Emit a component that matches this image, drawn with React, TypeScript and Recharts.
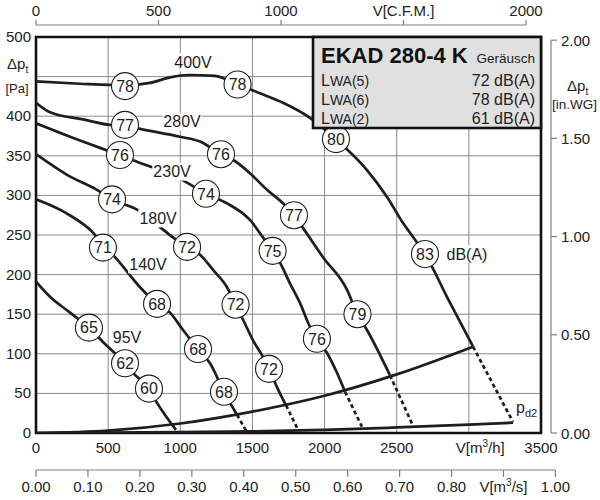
import React from "react";
import {
  ComposedChart,
  Line,
  Scatter,
  XAxis,
  YAxis,
  CartesianGrid,
  ReferenceArea,
} from "recharts";

type Pt = [number, number];
type Badge = [number, number, number];

// fan curves: V [m3/h], dp [Pa]
const curve400V: Pt[] = [
  [0, 444], [305, 441], [617, 439], [790, 442], [929, 449], [1067, 452], [1241, 451],
  [1397, 440], [1552, 429], [1712, 417], [1899, 398], [2079, 371], [2294, 332],
  [2433, 298], [2544, 265], [2627, 244], [2696, 226], [2848, 172], [3029, 109],
];
const dash400V: Pt[] = [[3029, 109], [3306, 14]];

const curve280V: Pt[] = [
  [0, 417], [97, 405], [326, 396], [513, 389], [617, 388], [721, 384], [998, 374],
  [1137, 368], [1282, 352], [1365, 345], [1483, 328], [1601, 307], [1712, 290],
  [1788, 275], [1850, 259], [1989, 222], [2155, 181], [2228, 150], [2294, 130], [2453, 73],
];
const dash280V: Pt[] = [[2453, 73], [2613, 9]];

const curve230V: Pt[] = [
  [0, 391], [236, 374], [444, 360], [582, 351], [721, 341], [859, 332], [1019, 319],
  [1178, 302], [1324, 290], [1483, 269], [1573, 247], [1640, 230], [1691, 215],
  [1760, 189], [1830, 164], [1899, 134], [1947, 119], [2017, 101], [2086, 76], [2142, 52],
];
const dash230V: Pt[] = [[2142, 52], [2259, 8]];

const curve180V: Pt[] = [
  [0, 352], [215, 326], [423, 307], [527, 295], [700, 282], [859, 260], [949, 247],
  [1047, 235], [1137, 225], [1227, 206], [1324, 184], [1383, 162], [1435, 143],
  [1504, 117], [1573, 96], [1615, 81], [1670, 58], [1733, 35],
];
const dash180V: Pt[] = [[1733, 35], [1816, 4]];

const curve140V: Pt[] = [
  [0, 295], [215, 277], [395, 253], [464, 238], [548, 222], [721, 184], [839, 163],
  [929, 152], [1019, 130], [1123, 106], [1206, 88], [1303, 52], [1393, 23],
];
const dash140V: Pt[] = [[1393, 23], [1462, 1]];

const curve95V: Pt[] = [
  [0, 191], [97, 172], [236, 152], [367, 133], [464, 115], [617, 88], [672, 76],
  [783, 56], [839, 38], [970, 4],
];

// system lines
const systemCurve: Pt[] = [[0, 0], [500, 3], [1000, 12], [1500, 27], [2000, 47], [2500, 74], [3029, 109]];
const pd2Curve: Pt[] = [[0, 0], [1000, 1], [1500, 2], [2000, 4], [2500, 7], [3000, 10.5], [3306, 13]];

// sound level badges: V, dp, dB(A)
const badges400V: Badge[] = [[617, 438, 78], [1397, 440, 78], [2079, 371, 80], [2696, 226, 83]];
const badges280V: Badge[] = [[617, 389, 77], [1282, 352, 76], [1788, 275, 77], [2228, 150, 79]];
const badges230V: Badge[] = [[582, 351, 76], [1178, 302, 74], [1640, 230, 75], [1947, 119, 76]];
const badges180V: Badge[] = [[527, 295, 74], [1047, 235, 72], [1383, 162, 72], [1615, 81, 72]];
const badges140V: Badge[] = [[464, 234, 71], [839, 163, 68], [1123, 106, 68], [1303, 52, 68]];
const badges95V: Badge[] = [[367, 133, 65], [617, 88, 62], [783, 56, 60]];

const curveTags: [number, number, string][] = [
  [1088, 468, "400V"], [1012, 393, "280V"], [943, 330, "230V"], [846, 271, "180V"],
  [776, 213, "140V"], [631, 121, "95V"], [2987, 226, "dB(A)"],
];
const pd2Tag: Pt[] = [[3327, 25]];

const xTicks = [0, 500, 1000, 1500, 2000, 2500, 3000, 3500];
const yTicks = [0, 50, 100, 150, 200, 250, 300, 350, 400, 450, 500];
const cfmTicks = [0, 500, 1000, 1500, 2000];
const msTicks = [0, 0.1, 0.2, 0.3, 0.4, 0.5, 0.6, 0.7, 0.8, 0.9, 1.0];
const inwgTicks = [0, 0.5, 1, 1.5, 2];

const soundRows = [
  ["WA(5)", "72 dB(A)"],
  ["WA(6)", "78 dB(A)"],
  ["WA(2)", "61 dB(A)"],
];

const X_MAX = 3500;
const Y_MAX = 500;
const M3H_PER_CFM = 1.698;
const M3H_PER_M3S = 3600;
const PA_PER_INWG = 248;

// every axis is 1px thick, the rest is margin
const MARGIN = { top: 37, right: 58, bottom: 66, left: 35 };
const PLOT_W = 600 - 36 - 59;
const PLOT_H = 500 - 37 - 67;
const PX_PER_M3H = PLOT_W / X_MAX;

const FONT = '"Liberation Sans", Arial, Helvetica, sans-serif';
const INK = "#1e1e1e";
const TEXT = "#222";
const GRID = "#8a8a8a";
const AXIS = "#808080";

const pts = (arr: Pt[]) => arr.map(([x, y]) => ({ x, y }));
const badgeData = [
  ...badges400V, ...badges280V, ...badges230V, ...badges180V, ...badges140V, ...badges95V,
].map(([x, y, db]) => ({ x, y, db }));
const tagData = curveTags.map(([x, y, text]) => ({ x, y, text }));

// C.F.M. scale above the plot, sharing the m3/h origin
const CfmScale = ({ x0 }: { x0: number }) => {
  const at = (v: number) => x0 + v * M3H_PER_CFM * PX_PER_M3H;
  return (
    <g fontFamily={FONT} fill={TEXT} fontSize={15}>
      <line x1={at(0)} x2={at(2000)} y1={25} y2={25} stroke={AXIS} strokeWidth={1.2} />
      {cfmTicks.map((v) => (
        <g key={v}>
          <line x1={at(v)} x2={at(v)} y1={20} y2={25} stroke={AXIS} strokeWidth={1.2} />
          <text x={at(v)} y={16} textAnchor="middle">{v === 1500 ? "V[C.F.M.]" : v}</text>
        </g>
      ))}
    </g>
  );
};

// m3/s scale below the m3/h labels
const MsScale = ({ x0 }: { x0: number }) => {
  const at = (v: number) => x0 + v * M3H_PER_M3S * PX_PER_M3H;
  return (
    <g fontFamily={FONT} fill={TEXT} fontSize={15}>
      <line x1={at(0)} x2={at(1)} y1={470} y2={470} stroke={AXIS} strokeWidth={1.2} />
      {msTicks.map((v, i) => (
        <g key={v}>
          <line x1={at(v)} x2={at(v)} y1={470} y2={477} stroke={AXIS} strokeWidth={1.2} />
          {i === 9 ? (
            <text x={at(v)} y={492} textAnchor="middle">
              V[m<tspan dy={-6} fontSize={10}>3</tspan>
              <tspan dy={6}>/s]</tspan>
            </text>
          ) : (
            <text x={at(v)} y={492} textAnchor="middle">{v.toFixed(2)}</text>
          )}
        </g>
      ))}
    </g>
  );
};

const MhTick = (props: any) => {
  const { x, payload, index } = props;
  const v = payload.value;
  return (
    <g fontFamily={FONT} fill={TEXT} fontSize={15}>
      {index === 0 && <CfmScale x0={x} />}
      {index === 0 && <MsScale x0={x} />}
      {v === 3000 ? (
        <text x={x - 13} y={453}>
          V[m<tspan dy={-6} fontSize={10}>3</tspan>
          <tspan dy={6}>/h]</tspan>
        </text>
      ) : (
        <text x={x} y={453} textAnchor="middle">{v}</text>
      )}
    </g>
  );
};

const PaTick = (props: any) => {
  const { y, payload } = props;
  if (payload.value === 450) {
    return (
      <g fontFamily={FONT} fill={TEXT}>
        <text x={7} y={y - 8} fontSize={15}>
          Δp<tspan dy={4} fontSize={10}>t</tspan>
        </text>
        <text x={17} y={y + 16} fontSize={13} textAnchor="middle">[Pa]</text>
      </g>
    );
  }
  return (
    <text x={31} y={y + 5} textAnchor="end" fontSize={15} fontFamily={FONT} fill={TEXT}>
      {payload.value}
    </text>
  );
};

const InwgTick = (props: any) => {
  const { y, payload, index } = props;
  const len = 2 * PA_PER_INWG * (PLOT_H / Y_MAX);
  const ax = 551;
  return (
    <g fontFamily={FONT} fill={TEXT}>
      {index === 0 && <line x1={ax} x2={ax} y1={y} y2={y - len} stroke={AXIS} strokeWidth={1.2} />}
      <line x1={ax} x2={ax + 6} y1={y} y2={y} stroke={AXIS} strokeWidth={1.2} />
      <text x={561} y={y + 5.5} fontSize={15}>{payload.value.toFixed(2)}</text>
      {payload.value === 2 && (
        <g>
          <text x={567} y={y + 51} fontSize={15}>
            Δp<tspan dy={4} fontSize={10}>t</tspan>
          </text>
          <text x={552} y={y + 69} fontSize={13.5}>[in.WG]</text>
        </g>
      )}
    </g>
  );
};

const DbBadge = (props: any) => {
  const { cx, cy, payload } = props;
  return (
    <g>
      <circle cx={cx} cy={cy} r={13.5} fill="#fff" stroke={INK} strokeWidth={1.1} />
      <text x={cx} y={cy + 5.8} textAnchor="middle" fontSize={16} fontFamily={FONT} fill={INK}>
        {payload.db}
      </text>
    </g>
  );
};

const CurveTag = (props: any) => {
  const { cx, cy, payload } = props;
  const w = payload.text.length * 9.4 + 2;
  return (
    <g>
      <rect x={cx - w / 2} y={cy - 9} width={w} height={18} fill="#fff" />
      <text x={cx} y={cy + 5.5} textAnchor="middle" fontSize={16} fontFamily={FONT} fill={INK}>
        {payload.text}
      </text>
    </g>
  );
};

const Pd2Tag = (props: any) => {
  const { cx, cy } = props;
  return (
    <text x={cx} y={cy} fontSize={16} fontFamily={FONT} fill={INK}>
      p<tspan dy={4} fontSize={11}>d2</tspan>
    </text>
  );
};

const solid = (data: Pt[], key: string) => (
  <Line
    key={key}
    data={pts(data)}
    dataKey="y"
    type="monotone"
    stroke={INK}
    strokeWidth={2.7}
    dot={false}
    activeDot={false}
    isAnimationActive={false}
  />
);

const dashed = (data: Pt[], key: string) => (
  <Line
    key={key}
    data={pts(data)}
    dataKey="y"
    type="linear"
    stroke={INK}
    strokeWidth={2.7}
    strokeDasharray="4 3"
    dot={false}
    activeDot={false}
    isAnimationActive={false}
  />
);

const SoundBox = () => (
  <svg
    width={600}
    height={500}
    style={{ position: "absolute", left: 0, top: 0, pointerEvents: "none" }}
    fontFamily={FONT}
  >
    <rect x={313} y={37} width={228} height={91} fill="#e0e0e0" stroke="#111" strokeWidth={2.6} />
    <text x={321} y={63} fontSize={22} fontWeight="bold" fill="#111">EKAD 280-4 K</text>
    <text x={535} y={63} fontSize={13.5} textAnchor="end" fill={TEXT}>Geräusch</text>
    {soundRows.map(([name, val], i) => (
      <g key={name} fill={TEXT}>
        <text x={321} y={86 + i * 19} fontSize={16}>
          L<tspan fontSize={14}>{name}</tspan>
        </text>
        <text x={535} y={86 + i * 19} fontSize={16} textAnchor="end">{val}</text>
      </g>
    ))}
  </svg>
);

export default function App() {
  return (
    <div style={{ position: "absolute", left: 0, top: 0, width: 600, height: 500, background: "#fff" }}>
      <ComposedChart width={600} height={500} margin={MARGIN}>
        <CartesianGrid stroke={GRID} strokeWidth={1} />
        <XAxis
          type="number"
          dataKey="x"
          domain={[0, X_MAX]}
          ticks={xTicks}
          interval={0}
          height={1}
          axisLine={false}
          tickLine={false}
          allowDataOverflow
          tick={(p: any) => <MhTick {...p} />}
        />
        <YAxis
          type="number"
          dataKey="y"
          domain={[0, Y_MAX]}
          ticks={yTicks}
          interval={0}
          width={1}
          axisLine={false}
          tickLine={false}
          allowDataOverflow
          tick={(p: any) => <PaTick {...p} />}
        />
        <YAxis
          yAxisId="inwg"
          orientation="right"
          type="number"
          domain={[0, Y_MAX / PA_PER_INWG]}
          ticks={inwgTicks}
          interval={0}
          width={1}
          axisLine={false}
          tickLine={false}
          allowDataOverflow
          tick={(p: any) => <InwgTick {...p} />}
        />
        {solid(systemCurve, "sys")}
        {solid(pd2Curve, "pd2")}
        {solid(curve400V, "c400")}
        {dashed(dash400V, "d400")}
        {solid(curve280V, "c280")}
        {dashed(dash280V, "d280")}
        {solid(curve230V, "c230")}
        {dashed(dash230V, "d230")}
        {solid(curve180V, "c180")}
        {dashed(dash180V, "d180")}
        {solid(curve140V, "c140")}
        {dashed(dash140V, "d140")}
        {solid(curve95V, "c95")}
        <Scatter data={tagData} dataKey="y" shape={(p: any) => <CurveTag {...p} />} isAnimationActive={false} />
        <Scatter data={badgeData} dataKey="y" shape={(p: any) => <DbBadge {...p} />} isAnimationActive={false} />
        <Scatter data={pts(pd2Tag)} dataKey="y" shape={(p: any) => <Pd2Tag {...p} />} isAnimationActive={false} />
        <ReferenceArea
          x1={0}
          x2={X_MAX}
          y1={0}
          y2={Y_MAX}
          fill="none"
          fillOpacity={0}
          stroke="#111"
          strokeWidth={2.6}
          ifOverflow="visible"
        />
      </ComposedChart>
      <SoundBox />
    </div>
  );
}
